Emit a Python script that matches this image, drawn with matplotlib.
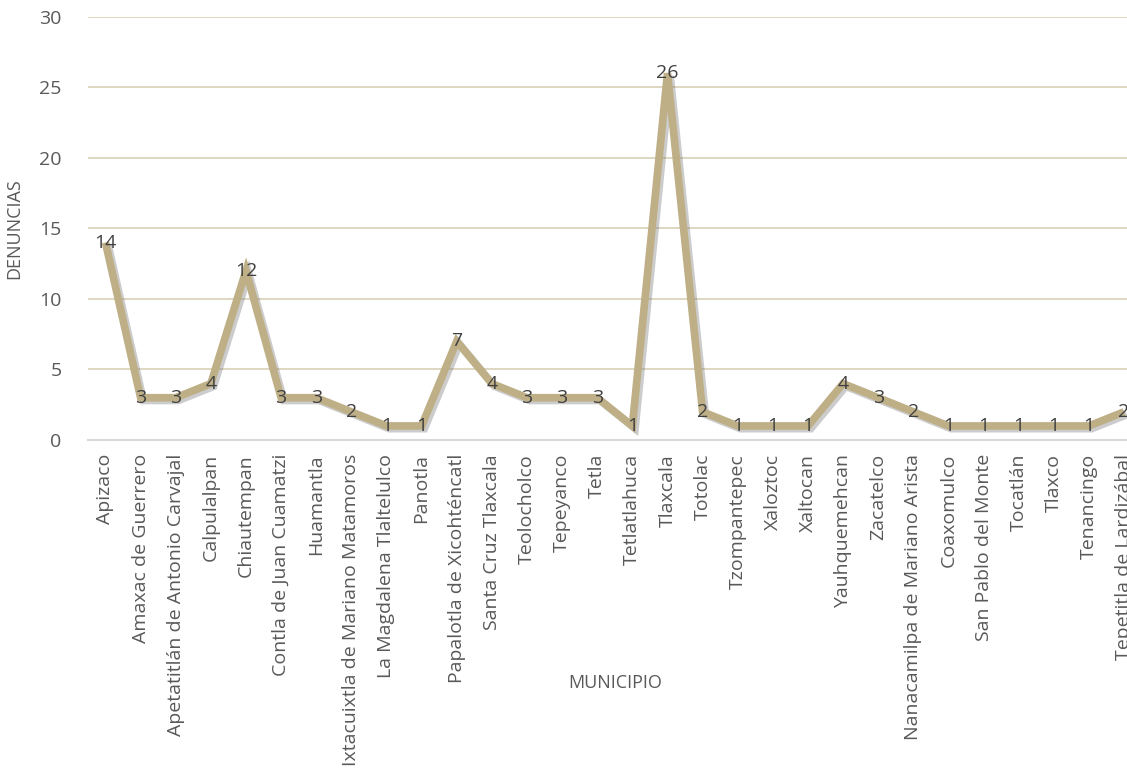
import matplotlib.pyplot as plt
import matplotlib.patheffects as pe

municipios = [
    "Apizaco", "Amaxac de Guerrero", "Apetatitlán de Antonio Carvajal",
    "Calpulalpan", "Chiautempan", "Contla de Juan Cuamatzi", "Huamantla",
    "Ixtacuixtla de Mariano Matamoros", "La Magdalena Tlaltelulco", "Panotla",
    "Papalotla de Xicohténcatl", "Santa Cruz Tlaxcala", "Teolocholco",
    "Tepeyanco", "Tetla", "Tetlatlahuca", "Tlaxcala", "Totolac",
    "Tzompantepec", "Xaloztoc", "Xaltocan", "Yauhquemehcan", "Zacatelco",
    "Nanacamilpa de Mariano Arista", "Coaxomulco", "San Pablo del Monte",
    "Tocatlán", "Tlaxco", "Tenancingo", "Tepetitla de Lardizábal",
]
denuncias = [14, 3, 3, 4, 12, 3, 3, 2, 1, 1, 7, 4, 3, 3, 3, 1, 26, 2,
             1, 1, 1, 4, 3, 2, 1, 1, 1, 1, 1, 2]

plt.rcParams['font.family'] = ['Open Sans', 'DejaVu Sans']

fig = plt.figure(figsize=(11.27, 7.78), dpi=100)
ax = fig.add_axes([0.078, 0.4344, 0.935, 0.544])

x = list(range(len(municipios)))
line_color = '#BEAF87'
ax.plot(x, denuncias, color=line_color, lw=5.5, solid_joinstyle='miter',
        solid_capstyle='butt', zorder=3,
        path_effects=[pe.SimpleLineShadow(offset=(2, -2), shadow_color='#6E6E6E', alpha=0.35),
                      pe.Normal()])

for xi, v in zip(x, denuncias):
    ax.text(xi, v, str(v), ha='center', va='center', fontsize=14,
            color='#404040', zorder=4)

ax.set_xlim(-0.5, len(municipios) - 0.5)
ax.set_ylim(0, 30)
ax.set_yticks(range(0, 31, 5))
ax.grid(axis='y', color='#D8CFB5', lw=1.2)
ax.set_axisbelow(True)
for s in ['top', 'right', 'left']:
    ax.spines[s].set_visible(False)
ax.spines['bottom'].set_color('#D9D9D9')
ax.spines['bottom'].set_linewidth(1.5)
ax.tick_params(axis='both', length=0, colors='#595959', labelsize=14)
ax.tick_params(axis='y', pad=19)
ax.tick_params(axis='x', pad=10)
ax.set_xticks(x)
ax.set_xticklabels(municipios, rotation=90)
ax.set_xlabel('MUNICIPIO', color='#595959', fontsize=13, va='center')
ax.xaxis.set_label_coords(0.5, -0.574)
ax.set_ylabel('DENUNCIAS', color='#595959', fontsize=13, va='center')
ax.yaxis.set_label_coords(-0.0697, 0.5)

fig.savefig('out.png', dpi=100)
